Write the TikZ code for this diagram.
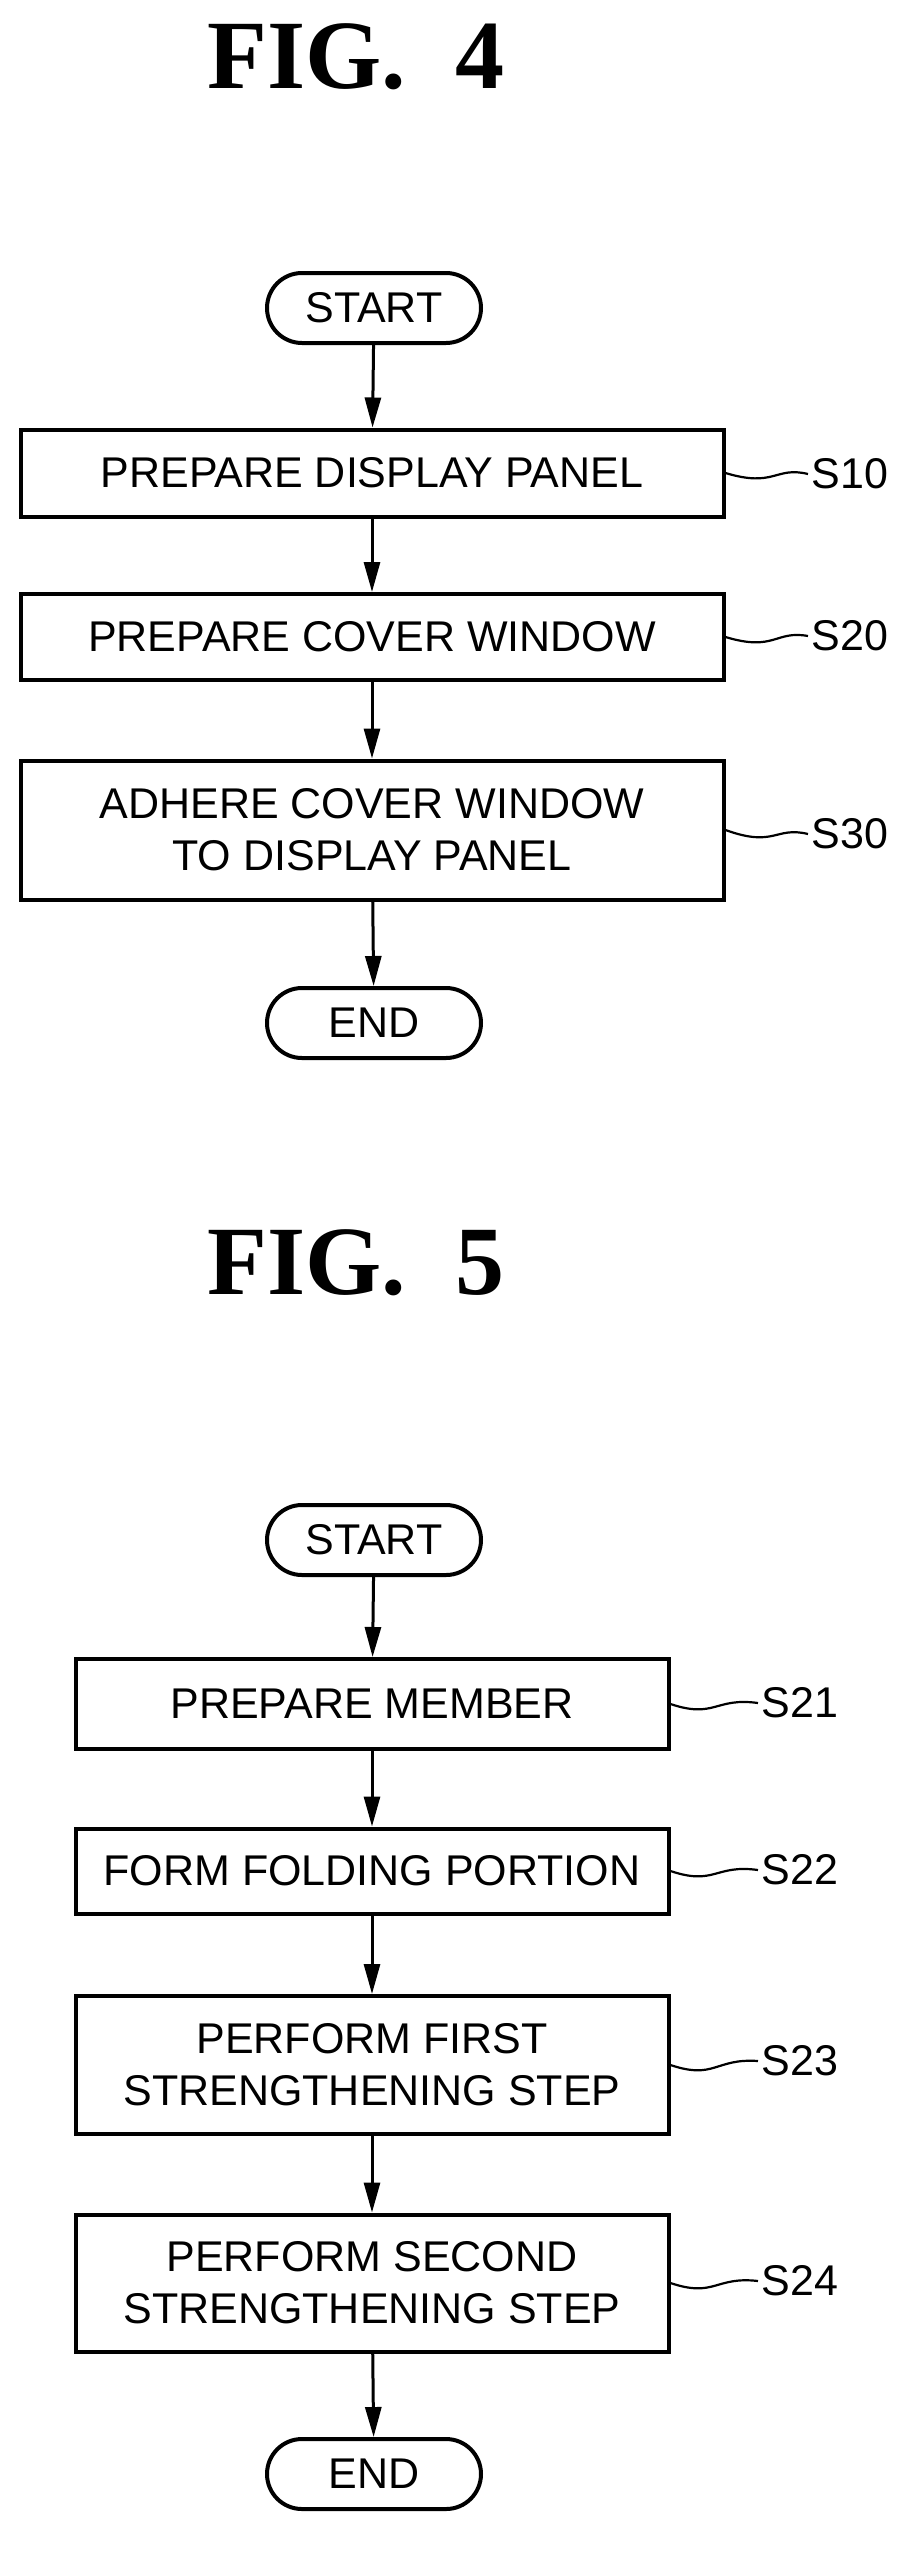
\documentclass[tikz,border=0pt]{standalone}
\usepackage{fontspec}
\setmainfont{Liberation Sans}
\newfontfamily\titlefont{Liberation Serif}
\usetikzlibrary{arrows.meta,shapes.misc}
\begin{document}
\begin{tikzpicture}[x=1pt,y=-1pt]

\tikzset{line/.style={draw,line width=4pt}}
\tikzset{arrow/.style={draw,line width=3pt,-{Triangle[length=30pt,width=16pt]}}}
\tikzset{term/.style={line,rounded rectangle,minimum width=214pt,minimum height=70pt,inner sep=0pt}}
\tikzset{proc/.style={line,rectangle,inner sep=0pt,align=center}}
\tikzset{lead/.style={draw,line width=2.2pt}}
\tikzset{title/.style={font=\titlefont\bfseries\fontsize{98}{98}\selectfont}}

\useasboundingbox (0,0) rectangle (918,2567);

% FIG. 4
\node[title] (t4) at (356,57) {FIG.\ \ 4};
\begin{scope}[font=\fontsize{43}{52}\selectfont]
\node[term] (start4) at (374,308) {START};
\node[proc,minimum width=703pt,minimum height=87pt] (s10) at (372,473) {PREPARE DISPLAY PANEL};
\node[proc,minimum width=703pt,minimum height=86pt] (s20) at (372,637) {PREPARE COVER WINDOW};
\node[proc,minimum width=703pt,minimum height=139pt] (s30) at (372,830) {ADHERE COVER WINDOW\\TO DISPLAY PANEL};
\node[term] (end4) at (374,1023) {END};

\node[anchor=west] (l10) at (808,474) {S10};
\node[anchor=west] (l20) at (808,636) {S20};
\node[anchor=west] (l30) at (808,834) {S30};
\end{scope}

\path[arrow] (start4) to (s10);
\path[arrow] (s10) to (s20);
\path[arrow] (s20) to (s30);
\path[arrow] (s30) to (end4);

\path[lead] (s10.east) .. controls (775,488) and (775,466) .. (l10.west);
\path[lead] (s20.east) .. controls (775,652) and (775,630) .. (l20.west);
\path[lead] (s30.east) .. controls (775,848) and (775,826) .. (l30.west);

% FIG. 5
\node[title] (t5) at (356,1263) {FIG.\ \ 5};
\begin{scope}[font=\fontsize{43}{52}\selectfont]
\node[term] (start5) at (374,1540) {START};
\node[proc,minimum width=593pt,minimum height=90pt] (s21) at (372,1704) {PREPARE MEMBER};
\node[proc,minimum width=593pt,minimum height=85pt] (s22) at (372,1871) {FORM FOLDING PORTION};
\node[proc,minimum width=593pt,minimum height=138pt] (s23) at (372,2065) {PERFORM FIRST\\STRENGTHENING STEP};
\node[proc,minimum width=593pt,minimum height=137pt] (s24) at (372,2283) {PERFORM SECOND\\STRENGTHENING STEP};
\node[term] (end5) at (374,2474) {END};

\node[anchor=west] (l21) at (758,1703) {S21};
\node[anchor=west] (l22) at (758,1870) {S22};
\node[anchor=west] (l23) at (758,2061) {S23};
\node[anchor=west] (l24) at (758,2281) {S24};
\end{scope}

\path[arrow] (start5) to (s21);
\path[arrow] (s21) to (s22);
\path[arrow] (s22) to (s23);
\path[arrow] (s23) to (s24);
\path[arrow] (s24) to (end5);

\path[lead] (s21.east) .. controls (715,1719) and (715,1697) .. (l21.west);
\path[lead] (s22.east) .. controls (715,1886) and (715,1864) .. (l22.west);
\path[lead] (s23.east) .. controls (715,2080) and (715,2058) .. (l23.west);
\path[lead] (s24.east) .. controls (715,2298) and (715,2276) .. (l24.west);

\end{tikzpicture}
\end{document}
